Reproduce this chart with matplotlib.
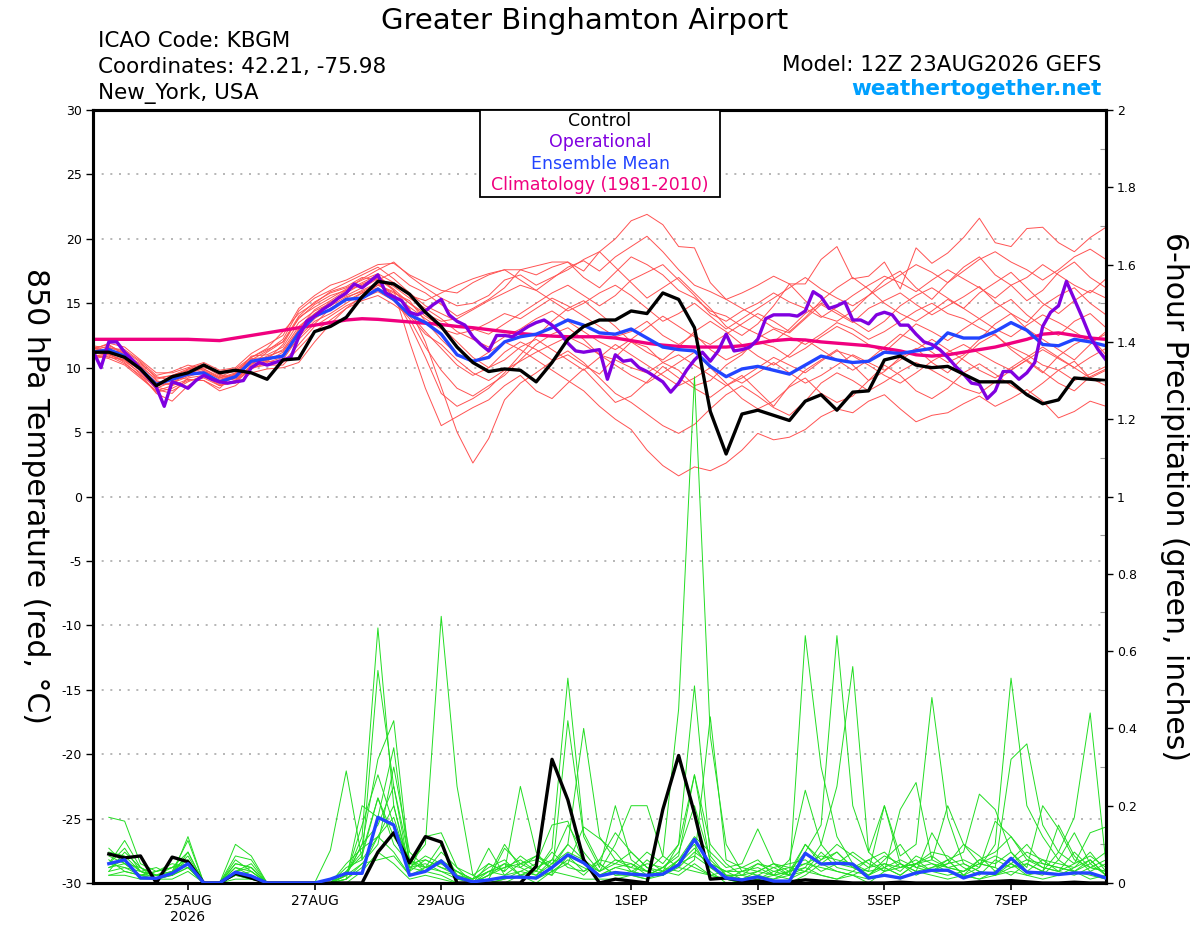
import numpy as np
import pandas as pd
import matplotlib
matplotlib.use("Agg")
import matplotlib.pyplot as plt
from matplotlib.patches import Rectangle
from matplotlib.ticker import MultipleLocator, FuncFormatter

plt.rcParams["font.family"] = ["DejaVu Sans"]
plt.rcParams["axes.unicode_minus"] = False

times = pd.date_range("2026-08-23 12:00", periods=65, freq="6h")
op_times = pd.date_range("2026-08-23 12:00", periods=129, freq="3h")

control_t = [11.2, 11.2, 10.8, 9.9, 8.6, 9.3, 9.6, 10.2, 9.6, 9.8,
             9.6, 9.1, 10.6, 10.7, 12.8, 13.2, 13.9, 15.5, 16.7, 16.5,
             15.7, 14.3, 13.2, 11.6, 10.4, 9.7, 9.9, 9.8, 8.9, 10.4,
             12.2, 13.2, 13.7, 13.7, 14.4, 14.2, 15.8, 15.3, 13.1, 6.6,
             3.3, 6.4, 6.7, 6.3, 5.9, 7.4, 7.9, 6.7, 8.1, 8.2,
             10.6, 10.9, 10.2, 10.0, 10.1, 9.5, 8.9, 8.9, 8.9, 7.9,
             7.2, 7.5, 9.2, 9.1, 9.0]

# operational run is 3-hourly
operational_t = [11.3, 10.0, 12.0, 12.0, 11.2, 10.6, 9.9, 9.2, 8.5, 7.0,
                 8.9, 8.7, 8.4, 9.0, 9.4, 9.1, 8.9, 8.8, 8.9, 9.0,
                 10.0, 10.4, 10.2, 10.4, 10.6, 10.8, 12.4, 13.6, 14.0, 14.5,
                 14.9, 15.4, 15.8, 16.5, 16.2, 16.7, 17.2, 15.8, 15.5, 15.2,
                 14.3, 14.1, 14.4, 14.9, 15.3, 14.1, 13.6, 13.3, 12.4, 11.8,
                 11.3, 12.5, 12.5, 12.4, 12.8, 13.2, 13.5, 13.7, 13.3, 12.7,
                 11.9, 11.3, 11.2, 11.3, 11.4, 9.1, 11.0, 10.5, 10.6, 10.0,
                 9.7, 9.3, 8.9, 8.1, 8.8, 9.8, 10.6, 11.2, 10.5, 11.3,
                 12.6, 11.3, 11.4, 11.6, 12.2, 13.8, 14.1, 14.1, 14.1, 14.0,
                 14.4, 15.9, 15.5, 14.6, 14.8, 15.1, 13.7, 13.7, 13.4, 14.1,
                 14.3, 14.1, 13.3, 13.3, 12.6, 12.0, 11.8, 11.4, 10.8, 10.1,
                 9.5, 8.8, 8.7, 7.6, 8.2, 9.7, 9.7, 9.1, 9.6, 10.4,
                 13.2, 14.3, 14.8, 16.7, 15.3, 13.9, 12.4, 11.4, 10.6]

mean_t = [11.2, 11.4, 10.9, 9.9, 8.7, 9.1, 9.5, 9.6, 8.9, 9.3,
          10.5, 10.7, 10.9, 12.7, 14.0, 14.5, 15.3, 15.4, 16.1, 15.3,
          14.1, 13.5, 12.6, 11.0, 10.5, 10.8, 12.0, 12.4, 12.6, 13.1,
          13.7, 13.3, 12.7, 12.6, 13.0, 12.3, 11.6, 11.4, 11.3, 10.1,
          9.3, 9.9, 10.1, 9.8, 9.5, 10.2, 10.9, 10.6, 10.4, 10.5,
          11.2, 11.1, 11.3, 11.5, 12.7, 12.3, 12.3, 12.8, 13.5, 12.9,
          11.8, 11.7, 12.2, 12.0, 11.7]

climo_t = [12.2, 12.2, 12.2, 12.2, 12.2, 12.2, 12.2, 12.15, 12.1, 12.3,
           12.5, 12.7, 12.9, 13.1, 13.3, 13.5, 13.7, 13.8, 13.75, 13.65,
           13.55, 13.45, 13.35, 13.2, 13.1, 12.95, 12.8, 12.65, 12.55, 12.45,
           12.4, 12.4, 12.4, 12.3, 12.1, 11.9, 11.75, 11.65, 11.6, 11.6,
           11.6, 11.7, 11.9, 12.1, 12.2, 12.15, 12.0, 11.9, 11.8, 11.7,
           11.5, 11.3, 11.0, 10.9, 11.0, 11.2, 11.4, 11.6, 11.9, 12.2,
           12.6, 12.7, 12.5, 12.3, 12.2]

members_t = [
    [11.5, 11.8, 11.0, 10.2, 9.0, 8.6, 9.9, 10.1, 9.4, 9.0, 10.2, 11.2, 12.0,
     13.8, 14.9, 15.6, 16.0, 16.4, 17.0, 16.1, 15.0,
     14.2, 13.6, 13.8, 14.5, 15.2, 15.8, 16.4, 16.0, 16.9, 17.8,
     18.3, 17.5, 18.6, 19.4, 20.2, 19.0, 17.6, 16.4, 15.9, 15.3,
     15.8, 16.4, 17.1, 16.5, 16.5, 18.4, 19.4, 16.9, 17.1, 18.2, 16.1, 19.3,
     18.1, 18.9, 20.1, 21.6, 19.7, 19.4, 20.8, 20.9, 19.7, 19.0, 20.1, 20.9],
    [10.8, 11.0, 10.5, 9.6, 8.3, 8.0, 9.2, 9.4, 8.7, 8.8, 10.0, 10.5, 11.2,
     13.0, 14.5, 15.2, 16.0, 16.6, 17.2, 16.0, 14.6,
     12.0, 8.5, 5.0, 2.6, 4.5, 7.5, 8.8, 9.6, 10.5, 11.0,
     10.2, 9.5, 10.8, 12.0, 11.6, 10.4, 9.8, 8.6, 9.0, 10.2,
     11.0, 12.3, 13.0, 12.4, 11.8, 12.6, 13.5, 13.0, 12.2, 12.8, 13.6, 14.4,
     15.0, 14.2, 13.8, 13.1, 12.5, 11.6, 11.0, 10.2, 9.8, 9.0, 9.5, 10.1],
    [11.6, 11.2, 11.3, 10.4, 9.2, 9.4, 9.8, 10.2, 9.6, 9.7, 10.8, 11.5, 12.8,
     14.2, 15.0, 15.9, 16.3, 17.0, 16.8, 17.4, 16.4,
     15.8, 14.9, 14.0, 14.6, 15.3, 16.2, 17.6, 17.9, 18.2, 18.2,
     17.5, 19.0, 20.0, 21.4, 21.9, 21.1, 19.4, 19.3, 16.6, 15.3,
     14.6, 13.9, 13.1, 12.7, 13.8, 14.9, 14.2, 13.5, 14.6, 15.2, 15.8, 14.9,
     14.1, 14.8, 15.5, 16.3, 15.1, 14.2, 13.5, 14.8, 15.6, 16.2, 15.0, 14.1],
    [11.0, 11.6, 11.1, 10.0, 8.6, 9.3, 9.1, 9.0, 8.4, 9.6, 10.4, 10.2, 10.6,
     12.4, 13.6, 14.2, 15.0, 15.8, 16.4, 15.8, 15.2,
     13.6, 12.2, 11.0, 10.4, 11.2, 12.0, 11.4, 10.6, 9.8, 9.0,
     8.2, 7.0, 6.0, 5.2, 3.6, 2.4, 1.6, 2.3, 2.0, 2.6,
     3.6, 4.9, 4.4, 4.6, 5.2, 6.2, 6.8, 6.5, 7.4, 7.9, 6.8, 5.8,
     6.3, 6.5, 7.2, 7.8, 7.0, 7.6, 8.3, 7.4, 6.1, 6.6, 7.4, 7.0],
    [11.4, 11.0, 10.6, 9.8, 8.9, 9.0, 9.6, 9.9, 9.2, 9.5, 10.9, 11.0, 11.6,
     13.5, 14.4, 15.0, 15.6, 16.2, 16.9, 16.0, 12.0,
     8.4, 5.5, 6.2, 6.9, 7.5, 8.6, 9.4, 8.2, 7.6, 8.8,
     9.9, 8.6, 7.3, 7.8, 8.9, 10.1, 9.2, 8.4, 7.7, 8.6,
     9.4, 8.2, 7.0, 8.6, 9.8, 10.6, 11.4, 10.2, 9.0, 9.7, 10.8, 11.5,
     10.4, 9.6, 10.8, 11.9, 12.6, 11.4, 10.5, 9.6, 10.9, 11.8, 12.4, 11.0],
    [11.1, 11.3, 10.9, 9.7, 8.4, 8.9, 9.4, 9.8, 9.1, 9.4, 10.3, 10.9, 11.3,
     12.9, 14.2, 14.8, 15.5, 15.9, 16.5, 15.6, 14.7,
     13.8, 13.0, 12.6, 12.9, 13.5, 14.2, 13.8, 14.6, 15.4, 14.8,
     14.0, 13.2, 12.4, 12.8, 13.6, 12.5, 11.8, 12.6, 11.4, 10.6,
     11.2, 12.0, 11.6, 10.8, 11.5, 12.4, 13.2, 12.6, 11.8, 11.2, 12.3, 13.4,
     12.8, 12.1, 13.0, 13.8, 14.6, 15.3, 14.1, 13.2, 12.5, 13.6, 14.2, 13.1],
    [11.3, 11.7, 11.2, 10.1, 9.1, 9.4, 9.9, 10.3, 9.5, 9.1, 10.1, 10.6, 11.8,
     13.9, 14.7, 15.4, 16.1, 16.9, 17.6, 18.2, 17.1,
     16.2, 15.4, 14.8, 15.0, 15.6, 16.8, 17.2, 16.4, 17.0, 17.6,
     18.4, 19.0, 17.8, 16.6, 15.4, 16.2, 17.0, 15.8, 14.6, 13.2,
     12.5, 13.4, 14.8, 16.5, 15.2, 14.0, 13.6, 14.4, 15.6, 16.8, 17.5, 16.2,
     15.3, 16.6, 17.8, 18.6, 17.2, 16.4, 15.2, 16.0, 17.4, 18.2, 17.0, 16.2],
    [10.9, 11.1, 10.4, 9.3, 8.1, 8.4, 9.0, 9.2, 8.6, 9.0, 9.9, 10.4, 10.8,
     12.6, 13.8, 14.6, 15.2, 15.8, 16.2, 15.4, 14.2,
     12.8, 11.5, 10.2, 9.4, 10.0, 11.2, 12.0, 11.4, 10.6, 11.3,
     10.4, 9.2, 8.0, 7.3, 6.4, 5.5, 4.9, 5.6, 6.8, 7.9,
     8.6, 7.8, 6.9, 6.3, 7.4, 8.8, 9.6, 9.0, 8.2, 8.9, 9.7, 10.4,
     9.8, 9.1, 8.4, 8.0, 8.9, 9.8, 10.6, 9.7, 8.8, 8.2, 9.3, 9.9],
    [11.7, 11.5, 11.4, 10.5, 9.4, 9.7, 10.2, 9.9, 9.3, 9.8, 10.6, 11.3, 12.2,
     14.4, 15.4, 16.0, 16.6, 17.2, 17.8, 16.9, 15.8,
     14.8, 14.2, 13.6, 13.0, 12.6, 13.4, 14.2, 15.0, 15.8, 16.4,
     15.6, 14.8, 15.6, 16.8, 17.4, 18.0, 16.8, 15.6, 14.2, 13.6,
     14.4, 15.0, 15.8, 15.1, 14.6, 13.9, 14.7, 15.6, 16.4, 17.1, 16.6, 15.9,
     16.8, 17.6, 16.9, 16.2, 15.4, 16.4, 17.0, 18.0, 17.2, 16.4, 15.8, 16.9],
    [11.0, 10.8, 10.6, 9.5, 8.0, 7.4, 8.6, 9.3, 8.8, 9.2, 10.1, 10.5, 10.4,
     11.8, 13.2, 14.0, 14.8, 15.4, 15.9, 15.2, 13.8,
     11.6, 9.8, 8.4, 7.8, 8.6, 9.4, 10.6, 11.8, 12.6, 13.1,
     12.2, 11.0, 10.2, 9.4, 8.8, 9.6, 10.4, 11.2, 10.0, 8.8,
     7.6, 6.8, 7.4, 8.5, 9.2, 8.0, 7.3, 7.8, 9.0, 10.2, 9.4, 8.2,
     7.6, 8.4, 9.6, 10.3, 9.5, 8.6, 7.9, 8.8, 9.8, 10.5, 9.2, 8.6],
    [11.3, 11.2, 10.7, 9.9, 8.8, 9.2, 9.7, 9.5, 9.0, 9.5, 10.7, 10.8, 11.4,
     13.2, 14.2, 15.1, 15.8, 16.5, 17.0, 16.3, 15.4,
     14.6, 13.8, 12.8, 12.2, 11.6, 12.4, 13.0, 13.8, 14.4, 13.6,
     12.8, 12.0, 11.4, 12.2, 13.1, 14.0, 13.2, 12.4, 11.8, 12.6,
     13.4, 14.2, 13.6, 12.8, 13.9, 15.2, 16.2, 17.0, 16.1, 15.0, 14.2, 13.6,
     14.4, 15.3, 14.6, 13.8, 13.0, 12.4, 13.3, 14.1, 13.5, 12.8, 12.0, 12.6],
    [10.7, 10.9, 10.3, 9.4, 8.5, 8.2, 8.9, 9.4, 8.6, 8.9, 10.0, 10.2, 10.2,
     11.5, 12.8, 13.7, 14.6, 15.2, 15.6, 14.9, 14.0,
     12.6, 11.8, 10.6, 9.6, 9.0, 9.8, 10.5, 11.2, 11.8, 12.4,
     11.8, 11.0, 10.6, 10.0, 9.6, 10.4, 11.0, 10.2, 9.4, 8.6,
     9.2, 10.0, 10.8, 10.2, 9.6, 10.5, 11.3, 10.9, 10.2, 9.4, 8.8, 9.6,
     10.5, 11.2, 11.8, 11.1, 10.4, 9.8, 10.6, 11.4, 10.7, 10.0, 10.8, 11.5],
    [11.4, 11.9, 11.6, 10.6, 9.6, 9.6, 10.0, 10.4, 9.8, 10.0, 11.1, 11.8, 12.5,
     14.6, 15.6, 16.4, 16.8, 17.4, 18.0, 18.1, 17.2,
     16.6, 16.0, 15.8, 16.6, 17.2, 17.6, 16.8, 16.0, 15.2, 14.4,
     15.0, 15.8, 16.4, 15.6, 14.6, 13.6, 14.2, 15.0, 14.0, 13.0,
     13.8, 14.6, 15.4, 16.2, 17.0, 16.1, 15.4, 14.8, 15.6, 16.4, 17.2, 18.0,
     17.4, 16.6, 17.5, 18.4, 19.0, 18.2, 17.6, 16.8, 17.6, 18.6, 19.2, 18.4],
    [11.2, 11.1, 10.8, 10.0, 8.6, 8.8, 9.3, 9.7, 9.2, 9.6, 10.4, 10.6, 11.0,
     12.2, 13.4, 14.6, 15.4, 16.0, 16.6, 15.6, 13.4,
     10.8, 8.0, 7.0, 7.6, 8.4, 9.6, 11.0, 12.4, 13.6, 14.6,
     15.2, 14.2, 13.2, 12.0, 11.2, 10.6, 11.6, 12.8, 13.6, 12.8,
     11.8, 10.9, 10.2, 11.0, 12.2, 11.4, 10.6, 9.8, 10.6, 11.6, 12.6, 12.0,
     11.2, 10.4, 11.0, 12.2, 13.4, 14.2, 13.0, 12.2, 11.4, 10.6, 11.8, 12.8],
    [11.5, 11.3, 11.0, 10.3, 9.3, 9.0, 9.5, 10.0, 9.7, 9.9, 10.8, 11.4, 12.0,
     14.0, 15.1, 15.8, 16.2, 16.8, 17.3, 16.6, 15.6,
     15.2, 15.8, 16.4, 16.9, 17.3, 17.6, 17.6, 17.2, 17.8, 18.2,
     17.0, 16.2, 17.4, 18.6, 18.0, 17.2, 16.0, 15.4, 14.4, 14.0,
     13.2, 12.6, 12.0, 13.0, 14.2, 15.0, 14.4, 13.6, 12.8, 13.6, 14.8, 15.6,
     16.2, 15.4, 14.6, 15.8, 16.6, 17.4, 16.2, 15.0, 14.2, 15.2, 16.0, 15.4],
    [11.0, 10.7, 10.2, 9.2, 8.2, 8.6, 9.1, 9.0, 8.2, 8.6, 9.6, 9.9, 10.0,
     10.4, 12.0, 13.4, 14.6, 15.6, 16.4, 15.9, 15.0,
     14.0, 13.2, 12.0, 10.8, 10.0, 10.6, 11.6, 12.2, 11.4, 10.6,
     9.8, 10.8, 11.8, 11.0, 10.2, 9.4, 8.6, 9.2, 10.0, 9.4,
     8.8, 9.6, 10.4, 9.6, 8.8, 9.4, 10.2, 11.0, 10.4, 9.8, 10.6, 11.4,
     12.2, 11.4, 10.6, 9.8, 9.2, 10.0, 10.8, 11.6, 10.8, 10.0, 9.2, 9.8],
]

# 6-hour precipitation (inches), valid from 18Z 23AUG onward
control_p = [0.075, 0.065, 0.07, 0, 0.067, 0.055, 0, 0,
             0.025, 0.013, 0, 0, 0, 0, 0, 0,
             0, 0.08, 0.13, 0.052, 0.12, 0.106, 0, 0,
             0, 0, 0, 0.043, 0.32, 0.215, 0.06, 0,
             0.01, 0.005, 0, 0.19, 0.33, 0.18, 0.01, 0.013,
             0.005, 0.005, 0.003, 0.003, 0.008, 0.005, 0.003, 0,
             0, 0, 0.002, 0, 0, 0, 0, 0.003,
             0.004, 0.006, 0.003, 0, 0, 0.002, 0, 0]

mean_p = [0.05, 0.06, 0.013, 0.012, 0.025, 0.05, 0, 0,
          0.028, 0.018, 0, 0, 0, 0, 0.01, 0.025,
          0.025, 0.17, 0.15, 0.02, 0.03, 0.057, 0.015, 0.003,
          0.008, 0.015, 0.015, 0.013, 0.04, 0.073, 0.052, 0.018,
          0.027, 0.023, 0.02, 0.023, 0.047, 0.113, 0.047, 0.013,
          0.008, 0.016, 0.005, 0.005, 0.077, 0.049, 0.051, 0.049,
          0.013, 0.02, 0.013, 0.026, 0.033, 0.033, 0.013, 0.026,
          0.025, 0.064, 0.028, 0.026, 0.022, 0.026, 0.026, 0.013]

members_p = [
    [.04, .05, .02, .01, .03, .06, 0, 0, .03, .02, 0, 0, 0, 0, 0, .02,
     .12, .66, .20, .04, .03, .02, 0, 0, 0, 0, .02, 0, .03, .06, .04, .02,
     .03, .02, .01, .02, .06, .10, .03, 0, 0, .01, 0, 0, .02, .05, .03, .02,
     0, .03, .05, .02, .04, .06, .02, .01, .03, .05, .02, .03, .08, .17, .44, .05],
    [.06, .03, .02, .02, .02, .04, 0, 0, .02, .01, 0, 0, 0, 0, 0, .03,
     .08, .22, .12, .05, .10, .69, .25, .02, 0, .01, .03, .02, .05, .10, .06, .02,
     .04, .03, .02, .03, .05, .07, .04, .01, 0, 0, .01, .02, .04, .02, .01, .03,
     .02, .04, .02, .05, .03, .06, .02, .04, .10, .53, .20, .12, .06, .03, .02, .01],
    [.03, .04, .03, .01, .02, .05, 0, 0, .04, .03, 0, 0, 0, 0, 0, .01,
     .05, .10, .30, .08, .04, .06, .03, 0, .02, .05, .02, .04, .06, .15, .08, .03,
     .05, .04, .03, .07, .45, 1.31, .38, .10, .03, .02, .01, .03, .10, .05, .08, .04,
     .02, .05, .04, .06, .03, .02, .03, .05, .04, .02, .05, .03, .02, .04, .06, .02],
    [.17, .16, .05, .03, .04, .08, 0, 0, .05, .04, 0, 0, 0, 0, 0, .02,
     .10, .32, .42, .05, .06, .04, .02, .01, .03, .02, .05, .03, .09, .53, .13, .05,
     .02, .03, .02, .04, .08, .20, .06, .02, .02, .05, .03, .02, .64, .30, .12, .05,
     .02, .06, .10, .04, .05, .03, .02, .06, .08, .12, .06, .04, .03, .05, .07, .04],
    [.05, .11, .04, .02, .03, .11, 0, 0, .07, .06, 0, 0, 0, 0, 0, .04,
     .06, .55, .25, .03, .12, .13, .04, 0, .01, .09, .05, .07, .04, .10, .40, .12,
     .06, .04, .08, .05, .10, .28, .05, .03, .01, .03, .02, .03, .08, .15, .64, .20,
     .08, .04, .02, .05, .06, .04, .05, .03, .02, .04, .06, .05, .04, .03, .05, .08],
    [.08, .07, .03, .02, .04, .05, 0, 0, .10, .07, 0, 0, 0, 0, 0, .02,
     .15, .28, .15, .06, .04, .10, .02, 0, .05, .03, .25, .08, .03, .05, .02, .06,
     .13, .08, .04, .03, .06, .12, .08, .04, .05, .14, .05, .03, .04, .10, .25, .56,
     .08, .20, .07, .10, .48, .17, .05, .03, .02, .05, .08, .06, .03, .02, .04, .03],
    [.02, .03, .02, .01, .02, .04, 0, 0, .02, .01, 0, 0, 0, 0, .085, .29,
     .06, .12, .08, .02, .03, .06, .01, 0, .02, .04, .06, .03, .02, .42, .12, .04,
     .20, .06, .03, .02, .05, .09, .04, .02, .01, .02, .04, .05, .06, .03, .05, .08,
     .05, .03, .19, .26, .06, .20, .10, .05, .04, .32, .36, .15, .08, .05, .13, .145],
    [.04, .06, .03, .02, .03, .07, 0, 0, .03, .05, 0, 0, 0, 0, 0, .01,
     .20, .17, .35, .04, .05, .03, .02, 0, .03, .05, .04, .07, .05, .08, .06, .03,
     .10, .20, .20, .07, .04, .03, .02, .01, .03, .04, .02, .06, .24, .10, .05, .04,
     .03, .20, .05, .03, .13, .06, .08, .23, .19, .08, .04, .20, .14, .06, .04, .03],
    [.09, .05, .02, .03, .05, .04, 0, 0, .04, .02, 0, 0, 0, 0, 0, .01,
     .04, .12, .20, .03, .06, .04, .03, .01, .09, .02, .03, .05, .15, .16, .05, .02,
     .04, .05, .02, .04, .07, .28, .10, .05, .02, .03, .05, .04, .03, .06, .10, .07,
     .04, .05, .03, .07, .05, .04, .03, .06, .05, .08, .03, .02, .06, .13, .05, .02],
    [.03, .08, .04, .02, .02, .12, 0, 0, .06, .03, 0, 0, 0, 0, 0, .03,
     .07, .22, .10, .05, .04, .05, .02, 0, .02, .10, .04, .02, .06, .05, .145, .115,
     .08, .03, .05, .04, .03, .06, .43, .06, .04, .03, .05, .02, .03, .08, .04, .03,
     .06, .03, .04, .05, .08, .07, .04, .02, .06, .04, .05, .03, .15, .07, .03, .05],
    [.05, .04, .02, .03, .04, .06, 0, 0, .02, .03, 0, 0, 0, 0, 0, .02,
     .10, .15, .25, .06, .03, .08, .04, .02, .05, .03, .07, .04, .02, .07, .03, .05,
     .02, .02, .06, .03, .10, .51, .07, .02, .02, .01, .03, .04, .05, .04, .03, .02,
     .04, .07, .05, .03, .04, .05, .10, .07, .03, .06, .10, .05, .04, .03, .06, .02],
    [.07, .05, .04, .01, .03, .05, 0, 0, .03, .04, 0, 0, 0, 0, 0, .02,
     .05, .06, .07, .02, .04, .03, .01, .01, .04, .06, .02, .03, .08, .04, .03, .06,
     .05, .08, .04, .02, .06, .04, .02, .03, .04, .06, .02, .03, .05, .07, .06, .05,
     .03, .04, .06, .04, .03, .05, .06, .04, .16, .12, .07, .04, .03, .08, .04, .06],
    [.02, .02, .01, .01, .01, .03, 0, 0, .01, .01, 0, 0, 0, 0, 0, 0,
     .03, .08, .05, .01, .02, .01, 0, 0, 0, .01, .02, .01, .03, .02, .01, .01,
     .01, .02, .01, .03, .02, .05, .02, .01, 0, .01, .02, .01, .03, .02, .01, .02,
     .01, .02, .01, .03, .02, .01, .02, .01, .02, .03, .02, .01, .02, .03, .01, .02],
    [.05, .09, .03, .04, .02, .08, 0, 0, .05, .04, 0, 0, 0, 0, 0, .05,
     .09, .12, .17, .04, .07, .05, .03, .01, .03, .04, .05, .06, .04, .07, .05, .03,
     .06, .05, .03, .02, .04, .08, .05, .03, .03, .05, .04, .02, .10, .06, .08, .04,
     .06, .08, .04, .05, .07, .04, .03, .05, .07, .05, .03, .06, .05, .04, .08, .03],
]

tick_dates = pd.to_datetime(["2026-08-25", "2026-08-27", "2026-08-29", "2026-09-01",
                             "2026-09-03", "2026-09-05", "2026-09-07"])
tick_labels = ["25AUG\n2026", "27AUG", "29AUG", "1SEP", "3SEP", "5SEP", "7SEP"]

legend_items = [("Control", "black"), ("Operational", "#8000e0"),
                ("Ensemble Mean", "#2244ff"), ("Climatology (1981-2010)", "#f0007f")]

# ---- figure ----
fig = plt.figure(figsize=(12, 9.27), dpi=100)
ax = fig.add_axes([93 / 1200, 44 / 927, 1013 / 1200, 773 / 927])
ax2 = ax.twinx()

# temperature plume
for m in members_t:
    ax.plot(times, m, color="#ff5252", lw=0.7, zorder=2)
ax.plot(times, climo_t, color="#f0007f", lw=2.4, zorder=4)
ax.plot(times, mean_t, color="#2244ff", lw=2.4, zorder=5)
ax.plot(op_times, operational_t, color="#8000e0", lw=2.4, zorder=6)
ax.plot(times, control_t, color="black", lw=2.4, zorder=7)

# precipitation plume
ptimes = times[1:]
for m in members_p:
    ax2.plot(ptimes, m, color="#22dd22", lw=0.7, zorder=2)
ax2.plot(ptimes, control_p, color="black", lw=2.4, zorder=4)
ax2.plot(ptimes, mean_p, color="#2244ff", lw=2.4, zorder=5)

ax.set_xlim(times[0], times[-1])
ax.set_ylim(-30, 30)
ax2.set_ylim(0, 2)

ax.set_yticks(np.arange(-30, 31, 5))
ax.set_xticks(tick_dates)
ax.set_xticklabels(tick_labels)
ax2.set_yticks(np.arange(0, 2.01, 0.2))
ax2.yaxis.set_major_formatter(FuncFormatter(lambda v, p: f"{v:g}"))
ax2.yaxis.set_minor_locator(MultipleLocator(0.1))

ax.set_axisbelow(True)
ax.grid(axis="y", color="#aaaaaa", linestyle=(0, (1.2, 4)), lw=1.2)

ax.tick_params(axis="y", direction="out", length=5, width=1, labelsize=9, pad=3)
ax.tick_params(axis="x", direction="out", length=5, width=1.2, labelsize=10, pad=3)
ax2.tick_params(axis="y", which="major", direction="out", length=5, width=1,
                labelsize=9, pad=3)
ax2.tick_params(axis="y", which="minor", direction="in", length=4, width=0.8,
                color="#999999")
for a in (ax, ax2):
    for s in a.spines.values():
        s.set_linewidth(2.2)

# legend box at top centre
ax2.add_patch(Rectangle((0.382, 0.8875), 0.237, 0.1125, transform=ax2.transAxes,
                        facecolor="white", edgecolor="black", lw=1.3,
                        zorder=10, clip_on=False))
for k, (label, col) in enumerate(legend_items):
    ax2.text(0.5005, 0.9858 - k * 0.0276, label, color=col, fontsize=12.5,
             ha="center", va="center", transform=ax2.transAxes, zorder=11)

# headers
fig.text(585 / 1200, 1 - 29 / 927, "Greater Binghamton Airport", fontsize=21,
         ha="center", va="baseline")
fig.text(98 / 1200, 1 - 47 / 927, "ICAO Code: KBGM", fontsize=15.5, va="baseline")
fig.text(98 / 1200, 1 - 73 / 927, "Coordinates: 42.21, -75.98", fontsize=15.5,
         va="baseline")
fig.text(98 / 1200, 1 - 99 / 927, "New_York, USA", fontsize=15.5, va="baseline")
fig.text(1101 / 1200, 1 - 71 / 927, "Model: 12Z 23AUG2026 GEFS", fontsize=15.5,
         ha="right", va="baseline")
fig.text(1102 / 1200, 1 - 95 / 927, "weathertogether.net", fontsize=15.5,
         fontweight="bold", color="#00a0ff", ha="right", va="baseline")

fig.text(35 / 1200, 1 - 496 / 927, "850 hPa Temperature (red, °C)", fontsize=21.5,
         rotation=270, ha="center", va="center")
fig.text(1175 / 1200, 1 - 496 / 927, "6-hour Precipitation (green, inches)",
         fontsize=21.5, rotation=270, ha="center", va="center")

fig.savefig("out.png", dpi=100)
